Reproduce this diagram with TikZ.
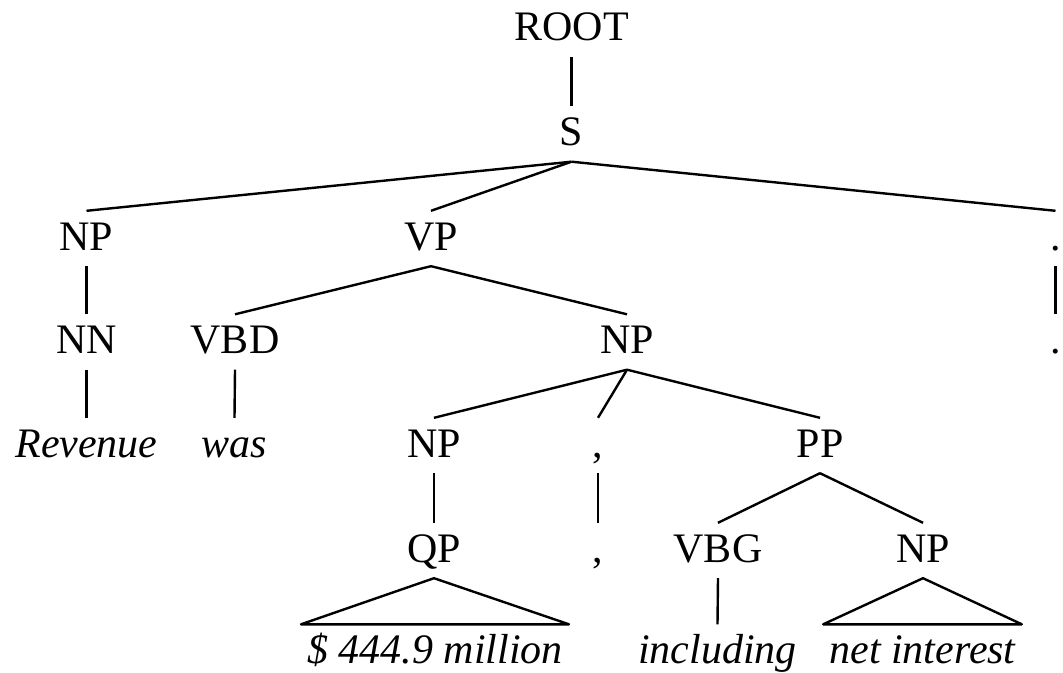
\documentclass[tikz,border=0pt]{standalone}
\usepackage{fontspec}
\setmainfont{Liberation Serif}
\begin{document}
\begin{tikzpicture}[x=1bp,y=-1bp,
  lbl/.style={anchor=base,inner xsep=0pt,inner ysep=0pt,text height=39bp,text depth=16bp,font=\fontsize{42bp}{50bp}\selectfont},
  leaf/.style={lbl,font=\fontsize{42bp}{50bp}\selectfont\itshape},
  tri/.style={leaf,inner xsep=6bp},
  br/.style={line width=2.4bp,line join=round}]
\useasboundingbox (0,0) rectangle (1063,673);
% row 0/1
\node[lbl] (root) at (571.5,41) {ROOT};
\node[lbl] (s) at (571.5,145.5) {S};
% row 2
\node[lbl] (np1) at (86.5,250) {NP};
\node[lbl] (vp) at (431,250) {VP};
\node[lbl] (dot1) at (1055.5,250) {.};
% row 3
\node[lbl] (nn) at (86.5,353.5) {NN};
\node[lbl] (vbd) at (235,353.5) {VBD};
\node[lbl] (np2) at (627,353.5) {NP};
\node[lbl] (dot2) at (1055.5,353.5) {.};
% row 4
\node[leaf] (revenue) at (86.5,457) {Revenue};
\node[leaf] (was) at (234.5,457) {was};
\node[lbl] (np3) at (434,457) {NP};
\node[lbl] (comma1) at (598,457) {,};
\node[lbl] (pp) at (820,457) {PP};
% row 5
\node[lbl] (qp) at (434,562) {QP};
\node[lbl] (comma2) at (598,562) {,};
\node[lbl] (vbg) at (718,562) {VBG};
\node[lbl] (np4) at (923,562) {NP};
% row 6
\node[tri] (million) at (435,663.5) {\$ 444.9 million};
\node[leaf] (including) at (717.5,663.5) {including};
\node[tri] (interest) at (922.5,663.5) {net interest};
% connectors
\draw[br] (root.south) -- (s.north);
\draw[br] (s.south) -- (np1.north);
\draw[br] (s.south) -- (vp.north);
\draw[br] (s.south) -- (dot1.north);
\draw[br] (np1.south) -- (nn.north);
\draw[br] (vp.south) -- (vbd.north);
\draw[br] (vp.south) -- (np2.north);
\draw[br] (dot1.south) -- (dot2.north);
\draw[br] (nn.south) -- (revenue.north);
\draw[br] (vbd.south) -- (was.north);
\draw[br] (np2.south) -- (np3.north);
\draw[br] (np2.south) -- (comma1.north);
\draw[br] (np2.south) -- (pp.north);
\draw[br] (np3.south) -- (qp.north);
\draw[br] (comma1.south) -- (comma2.north);
\draw[br] (pp.south) -- (vbg.north);
\draw[br] (pp.south) -- (np4.north);
\draw[br] (vbg.south) -- (including.north);
\draw[br] (qp.south) -- (million.north west) -- (million.north east) -- cycle;
\draw[br] (np4.south) -- (interest.north west) -- (interest.north east) -- cycle;
\end{tikzpicture}
\end{document}
